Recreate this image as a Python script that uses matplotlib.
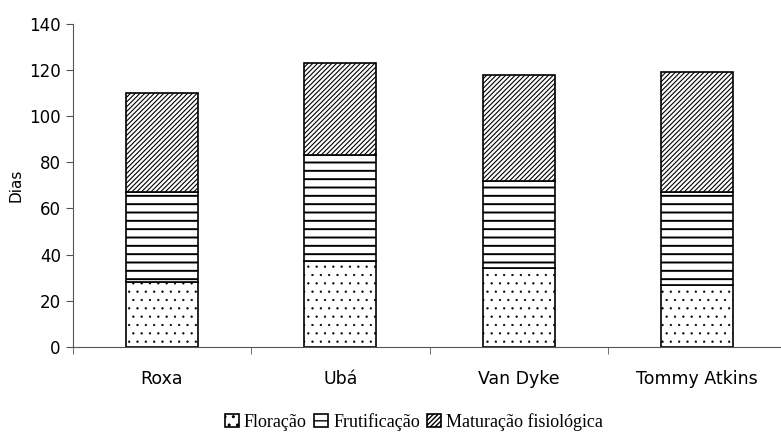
import numpy as np
import matplotlib.pyplot as plt

cultivares = ['Roxa', 'Ubá', 'Van Dyke', 'Tommy Atkins']
floracao = [28, 37, 34, 27]
frutificacao = [39, 46, 38, 40]
maturacao = [43, 40, 46, 52]
fases = ['Floração', 'Frutificação', 'Maturação fisiológica']

fig = plt.figure(figsize=(7.81, 4.33), dpi=100)
ax = fig.add_axes([0.093, 0.199, 0.914, 0.746])

x = np.arange(len(cultivares))
w = 0.405
b1 = ax.bar(x, floracao, w, color='white', edgecolor='black', hatch='..', linewidth=1.2, label=fases[0])
b2 = ax.bar(x, frutificacao, w, bottom=floracao, color='white', edgecolor='black', hatch='--', linewidth=1.2, label=fases[1])
base = np.array(floracao) + np.array(frutificacao)
b3 = ax.bar(x, maturacao, w, bottom=base, color='white', edgecolor='black', hatch='///////', linewidth=1.2, label=fases[2])
for p in b1:
    p.set_hatch_linewidth(0.4)
for p in b2:
    p.set_hatch_linewidth(1.4)
for p in b3:
    p.set_hatch_linewidth(0.8)

ax.set_xlim(-0.5, 3.5)
ax.set_ylim(0, 140)
ax.set_yticks(range(0, 141, 20))
ax.set_xticks(x)
ax.set_xticklabels(cultivares, fontsize=12.5)
ax.set_xticks(np.arange(-0.5, 4, 1), minor=True)
ax.tick_params(axis='x', which='major', length=0, pad=17)
ax.tick_params(axis='x', which='minor', length=5, direction='out', color='#555555')
ax.tick_params(axis='y', labelsize=12, length=5, color='#555555')
ax.set_ylabel('Dias', fontsize=11, labelpad=4)
for s in ['top', 'right']:
    ax.spines[s].set_visible(False)
for s in ['left', 'bottom']:
    ax.spines[s].set_color('#555555')

fig.legend(handles=[b1, b2, b3], loc='center', bbox_to_anchor=(0.53, 0.025), ncol=3, frameon=False,
           prop={'family': 'Liberation Serif', 'size': 13}, handlelength=0.75, handleheight=0.75,
           handletextpad=0.3, columnspacing=0.4)

fig.savefig('out.png', dpi=100)
